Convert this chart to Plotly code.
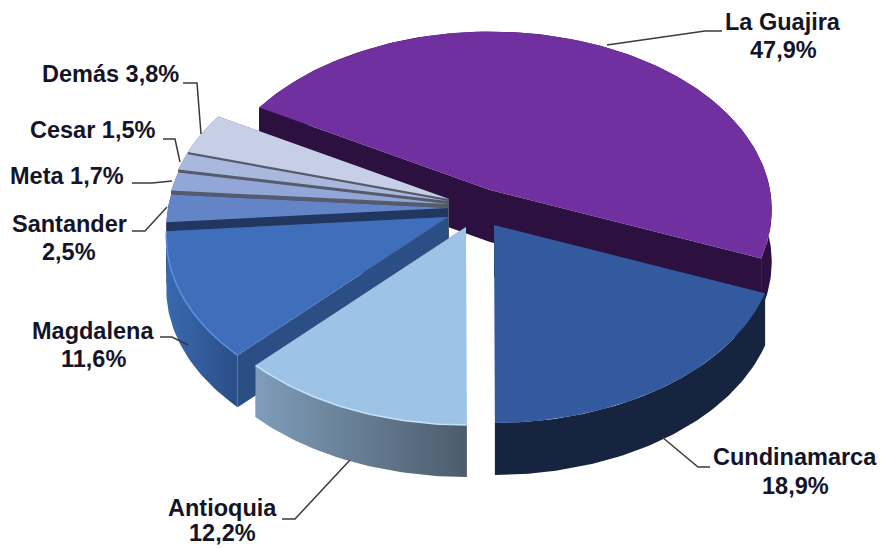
import math
import plotly.graph_objects as go

# --- data ---
departments = ["La Guajira", "Cundinamarca", "Antioquia", "Magdalena", "Santander", "Meta", "Cesar", "Demás"]
shares = [47.9, 18.9, 12.2, 11.6, 2.5, 1.7, 1.5, 3.8]

# --- styling per slice ---
apex = {"La Guajira": (490, 190), "Cundinamarca": (494, 225), "Antioquia": (466, 227), "Magdalena": (448, 217),
        "Santander": (448, 208), "Meta": (448, 204), "Cesar": (448, 201), "Demás": (449, 199)}
top = {"La Guajira": "#7030A0", "Cundinamarca": "#335A9E", "Antioquia": "#9DC3E6", "Magdalena": "#3F6FBB",
       "Santander": "#6484C8", "Meta": "#92A6D8", "Cesar": "#AAB8DE", "Demás": "#C6CFE6"}
radial = {"La Guajira": "#2B1040", "Cundinamarca": "#16243F", "Antioquia": "#5F7890", "Magdalena": "#2B4E85",
          "Santander": "#22375F", "Meta": "#555B6B", "Cesar": "#555B6B", "Demás": "#555B6B"}
outer = {"La Guajira": ("#2B1040", "#2B1040"), "Cundinamarca": ("#16243F", "#16243F"),
         "Antioquia": ("#7F9DB9", "#4C5C6C"), "Magdalena": ("#3A69AE", "#2A4E88"),
         "Santander": ("#22375F", "#22375F"), "Meta": ("#555B6B", "#555B6B"),
         "Cesar": ("#555B6B", "#555B6B"), "Demás": ("#555B6B", "#555B6B")}
rim = {"Antioquia": "#C4E2F8", "Magdalena": "#5F8FDB"}
draw_order = ["La Guajira", "Demás", "Cesar", "Meta", "Santander", "Magdalena", "Antioquia", "Cundinamarca"]

START_ANGLE = 150.4  # degrees, slices run clockwise
A, B, K, DEPTH = 280, 176, 0.111, 52

name_pos = {"La Guajira": (783, 22), "Cundinamarca": (795, 457), "Antioquia": (222, 508),
            "Magdalena": (93, 331), "Santander": (69, 224), "Meta": (67, 176),
            "Cesar": (93, 130), "Demás": (110, 74)}
value_pos = {"La Guajira": (783, 50), "Cundinamarca": (795, 486), "Antioquia": (222, 533),
             "Magdalena": (93, 359), "Santander": (69, 252)}
leaders = {"La Guajira": [(607, 45), (705, 31), (722, 31)],
           "Cundinamarca": [(662, 437), (698, 467), (710, 467)],
           "Antioquia": [(350, 460), (295, 519), (282, 519)],
           "Magdalena": [(188, 345), (172, 337), (160, 337)],
           "Santander": [(167, 207), (145, 231), (132, 231)],
           "Meta": [(172, 181), (152, 183), (132, 183)],
           "Cesar": [(180, 162), (175, 139), (163, 139)],
           "Demás": [(201, 134), (197, 83), (183, 83)]}

# --- geometry from the shares ---
spans = {}
ang = START_ANGLE
total = sum(shares)
for d, s in zip(departments, shares):
    sweep = 360 * s / total
    spans[d] = (ang, ang - sweep)
    ang -= sweep


def pt(d, deg, dz=0.0):
    ax, ay = apex[d]
    c, s = math.cos(math.radians(deg)), math.sin(math.radians(deg))
    w = 1 + K * s
    return ax + A * c / w, ay - B * s / w + dz


def arc(d, dz=0.0):
    a0, a1 = spans[d]
    n = max(8, int(abs(a0 - a1)))
    return [pt(d, a0 + (a1 - a0) * i / n, dz) for i in range(n + 1)]


fig = go.Figure()


def poly(points, color=None, gradient=None):
    xs = [p[0] for p in points] + [points[0][0]]
    ys = [p[1] for p in points] + [points[0][1]]
    kw = dict(fillgradient=gradient) if gradient else dict(fillcolor=color)
    fig.add_trace(go.Scatter(x=xs, y=ys, mode="lines", fill="toself", line=dict(width=0), hoverinfo="skip",
                             showlegend=False, **kw))


def line(points, color, width):
    fig.add_trace(go.Scatter(x=[p[0] for p in points], y=[p[1] for p in points], mode="lines",
                             line=dict(color=color, width=width), hoverinfo="skip", showlegend=False))


for d in draw_order:
    a0, a1 = spans[d]
    ap = apex[d]
    apb = (ap[0], ap[1] + DEPTH)
    for e in (a0, a1):
        poly([ap, pt(d, e), pt(d, e, DEPTH), apb], color=radial[d])
    arc_top = arc(d)
    arc_bot = arc(d, DEPTH)
    c0, c1 = outer[d]
    if c0 == c1:
        poly(arc_top + arc_bot[::-1], color=c0)
    else:
        poly(arc_top + arc_bot[::-1],
             gradient=dict(type="horizontal", colorscale=[[0, c0], [1, c1]]))
    poly([ap] + arc_top, color=top[d])
    if d in rim:
        line(arc_top, rim[d], 1.5)

annotations = []
font = dict(family="Liberation Sans", size=23.5, color="#141428", weight="bold")


def label(text, pos):
    annotations.append(dict(x=pos[0], y=pos[1], text=text, showarrow=False, xanchor="center", yanchor="middle",
                            align="center", font=font))


for d, s in zip(departments, shares):
    line(leaders[d], "#3A3A3A", 1.5)
    value = f"{s:.1f}".replace(".", ",") + "%"
    if d in value_pos:
        label(d, name_pos[d])
        label(value, value_pos[d])
    else:
        label(f"{d} {value}", name_pos[d])

fig.update_layout(width=882, height=548, margin=dict(l=0, r=0, t=0, b=0), paper_bgcolor="white",
                  plot_bgcolor="white", showlegend=False, annotations=annotations,
                  xaxis=dict(range=[0, 882], visible=False, fixedrange=True),
                  yaxis=dict(range=[548, 0], visible=False, fixedrange=True))
fig.write_html("out.html", config={"displayModeBar": False},
               post_script="document.body.style.margin='0';document.documentElement.style.overflow='hidden';")
